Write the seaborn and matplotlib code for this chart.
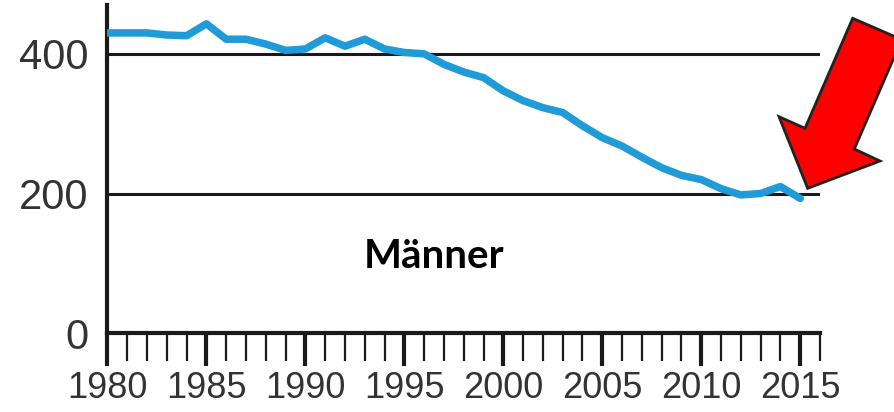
import numpy as np
import pandas as pd
import matplotlib as mpl
mpl.use("Agg")
import matplotlib.pyplot as plt
from matplotlib.patches import Polygon
from matplotlib.ticker import MultipleLocator
import seaborn as sns

years = list(range(1980, 2016))
werte = [430, 430, 430, 427, 426, 443, 421, 421, 414, 405,
         407, 423, 411, 421, 407, 402, 400, 385, 374, 366,
         347, 333, 323, 316, 297, 280, 268, 252, 237, 226,
         220, 207, 198, 200, 210, 193]
y_ticks = [0, 200, 400]
x_ticks = list(range(1980, 2016, 5))
titel = "Männer"

df = pd.DataFrame({"jahr": years, "wert": werte})

sns.set_style("white")
plt.rcParams['font.family'] = ['Liberation Sans', 'DejaVu Sans']

fig = plt.figure(figsize=(8.94, 4.12), dpi=100)
ax = fig.add_axes([0.1202, 0.1913, 0.9172 - 0.1202, 0.9879 - 0.1913])

# Gitterlinien bei 200 und 400
for yt in y_ticks[1:]:
    ax.axhline(yt, color="#1a1a1a", lw=2.2, zorder=1)

sns.lineplot(data=df, x="jahr", y="wert", ax=ax, color="#1f9bd7",
             lw=5.4, zorder=3)

ax.set_xlim(1980, 2016)
ax.set_ylim(0, 470)
ax.set_xlabel("")
ax.set_ylabel("")

ax.set_yticks(y_ticks)
ax.set_xticks(x_ticks)
ax.xaxis.set_minor_locator(MultipleLocator(1))
ax.tick_params(axis="y", left=False, length=0, pad=14, labelsize=30,
               labelcolor="#333333")
ax.tick_params(axis="x", which="major", bottom=True, length=24, width=3,
               direction="out", color="#1a1a1a", pad=3, labelsize=26,
               labelcolor="#333333")
ax.tick_params(axis="x", which="minor", bottom=True, length=20, width=1.6,
               direction="out", color="#1a1a1a")

for s in ["top", "right"]:
    ax.spines[s].set_visible(False)
for s in ["left", "bottom"]:
    ax.spines[s].set_color("#1a1a1a")
    ax.spines[s].set_linewidth(3)

ax.text(1996.5, 110, titel, fontsize=29, fontweight="bold",
        family=["Lato", "DejaVu Sans"], ha="center", va="center", color="black")

# roter Pfeil oben rechts (Pixelkoordinaten der Abbildung)
W, H = 894, 412
pfeil_px = [(852.7, 18.3), (901.8, 39.6), (854.3, 149), (880, 161),
            (807.7, 188.3), (779, 116.7), (805, 128.3)]
pfeil = Polygon([(x / W, 1 - y / H) for x, y in pfeil_px], closed=True,
                transform=fig.transFigure, facecolor="#ff0000",
                edgecolor="#222222", lw=2, clip_on=False, zorder=5)
fig.patches.append(pfeil)

fig.savefig("out.png", dpi=100)
